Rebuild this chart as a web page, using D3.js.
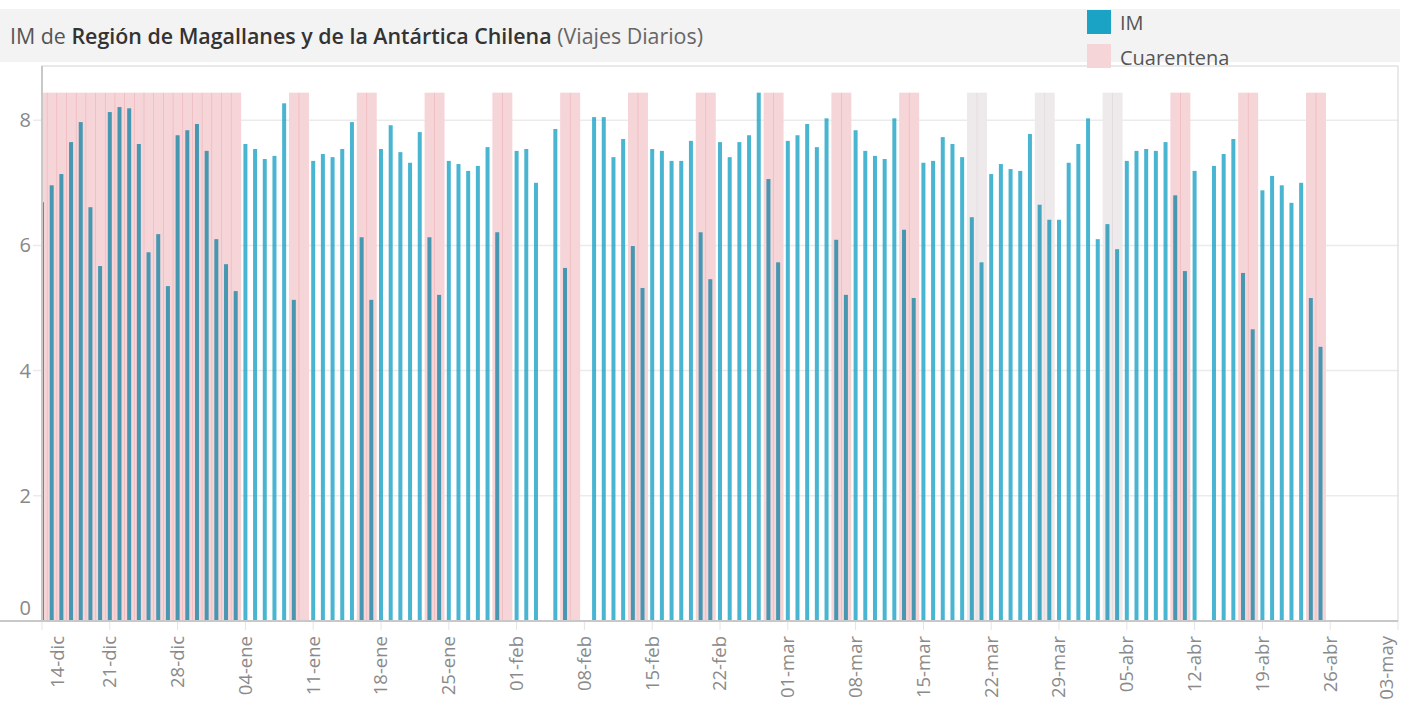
<!DOCTYPE html>
<html>
<head>
<script src="https://cdn.jsdelivr.net/npm/d3@7"></script>
  <meta charset="utf-8">
  <title>IM Magallanes</title>
  <style>
    body { margin: 0; background: #fff; }
    svg { display: block; font-family: "Open Sans", Lato, sans-serif; }
  </style>
</head>
<body>

<svg width="1413" height="702"></svg>

<script>

	// IM values per day, one array per month (null = no data that day)
	var valuesDic = [6.69, 6.96, 7.14, 7.65, 7.97, 6.61, 5.67, 8.13, 8.21, 8.19, 7.62, 5.89, 6.18, 5.35, 7.76, 7.84, 7.94, 7.51]; // 14-dic .. 31-dic
	var valuesEne = [6.10, 5.70, 5.27, 7.62, 7.54, 7.38, 7.43, 8.27, 5.13, null, 7.35, 7.46, 7.41, 7.54, 7.97, 6.13,
	                 5.13, 7.54, 7.92, 7.49, 7.32, 7.81, 6.13, 5.21, 7.35, 7.30, 7.19, 7.27, 7.57, 6.21, null];
	var valuesFeb = [7.51, 7.54, 7.00, null, 7.86, 5.64, null, null, 8.05, 8.05, 7.41, 7.70, 5.99, 5.32,
	                 7.54, 7.51, 7.35, 7.35, 7.67, 6.21, 5.46, 7.65, 7.41, 7.65, 7.76, 8.44, 7.06, 5.73];
	var valuesMar = [7.67, 7.76, 7.94, 7.57, 8.03, 6.09, 5.21, 7.84, 7.51, 7.43, 7.38, 8.03, 6.25, 5.16, 7.32, 7.35,
	                 7.73, 7.62, 7.41, 6.45, 5.73, 7.14, 7.30, 7.22, 7.19, 7.78, 6.65, 6.41, 6.41, 7.32, 7.62];
	var valuesAbr = [8.03, 6.10, 6.34, 5.94, 7.35, 7.51, 7.54, 7.51, 7.65, 6.80, 5.59, 7.19, null, 7.27, 7.46, 7.70,
	                 5.56, 4.66, 6.88, 7.11, 6.96, 6.68, 7.00, 5.16, 4.38];

	// quarantine periods (first day, last day)
	var cuarentena = [["2020-12-14", "2021-01-03"], ["2021-01-09", "2021-01-10"], ["2021-01-16", "2021-01-17"],
	                  ["2021-01-23", "2021-01-24"], ["2021-01-30", "2021-01-31"], ["2021-02-06", "2021-02-07"],
	                  ["2021-02-13", "2021-02-14"], ["2021-02-20", "2021-02-21"], ["2021-02-27", "2021-02-28"],
	                  ["2021-03-06", "2021-03-07"], ["2021-03-13", "2021-03-14"], ["2021-04-10", "2021-04-11"],
	                  ["2021-04-17", "2021-04-18"], ["2021-04-24", "2021-04-25"]];
	// grey (no legend) periods
	var otros = [["2021-03-20", "2021-03-21"], ["2021-03-27", "2021-03-28"], ["2021-04-03", "2021-04-04"]];

	var tickLabels = ["14-dic", "21-dic", "28-dic", "04-ene", "11-ene", "18-ene", "25-ene", "01-feb", "08-feb",
	                  "15-feb", "22-feb", "01-mar", "08-mar", "15-mar", "22-mar", "29-mar", "05-abr", "12-abr",
	                  "19-abr", "26-abr", "03-may"];
	var yTicks = [0, 2, 4, 6, 8];

	var parse = d3.timeParse("%Y-%m-%d");
	var firstDay = parse("2020-12-14");
	var lastDay = parse("2021-05-03");

	// join month arrays into one daily series
	var values = valuesDic.concat(valuesEne, valuesFeb, valuesMar, valuesAbr);
	var data = values.map(function(v, i) { return {date: d3.timeDay.offset(firstDay, i), value: v}; })
		.filter(function(d) { return d.value != null; });

	function days(periods) {
		var out = [];
		periods.forEach(function(p) {
			out = out.concat(d3.timeDay.range(parse(p[0]), d3.timeDay.offset(parse(p[1]), 1)));
		});
		return out;
	}

	var pLeft = 42, pRight = 1398, pTop = 66, pBottom = 621;

	var x = d3.scaleTime()
		.domain([firstDay, lastDay])
		.range([pLeft, pRight]);
	var y = d3.scaleLinear()
		.domain([0, 8.866])
		.range([pBottom, pTop]);
	var dayW = x(d3.timeDay.offset(firstDay, 1)) - x(firstDay);
	var maxV = d3.max(data, function(d) { return d.value; });

	var svg = d3.select('svg');

	// header
	svg.append('rect').attr('x', 0).attr('y', 9).attr('width', 1400).attr('height', 53).attr('fill', '#f3f3f3');
	var title = svg.append('text').attr('x', 10).attr('y', 37).attr('dy', '0.35em').attr('font-size', 21.4).attr('fill', '#555');
	title.append('tspan').text('IM de ');
	title.append('tspan').attr('fill', '#333').attr('font-weight', 600).text('Región de Magallanes y de la Antártica Chilena');
	title.append('tspan').attr('fill', '#666').text(' (Viajes Diarios)');

	svg.append('clipPath').attr('id', 'plot')
		.append('rect').attr('x', pLeft).attr('y', pTop).attr('width', pRight - pLeft).attr('height', pBottom - pTop);

	// gridlines
	svg.selectAll('.grid')
		.data(yTicks.filter(function(t) { return t > 0; }))
		.enter().append('line')
			.attr('x1', 33).attr('x2', pRight)
			.attr('y1', function(d) { return y(d); })
			.attr('y2', function(d) { return y(d); })
			.attr('stroke', '#ebebeb').attr('stroke-width', 1.5);

	var plot = svg.append('g').attr('clip-path', 'url(#plot)').style('isolation', 'isolate');

	// bars
	plot.selectAll('.bar')
			.data(data)
		.enter().append('rect')
			.attr('x', function(d) { return x(d.date) - 2; })
			.attr('width', 4)
			.attr('y', function(d) { return y(d.value); })
			.attr('height', function(d) { return y(0) - y(d.value); })
			.attr('fill', '#1ba3c6')
			.attr('fill-opacity', 0.8);

	// bands multiplied over the bars
	function bands(list, color) {
		plot.selectAll(null)
				.data(days(list))
			.enter().append('rect')
				.attr('x', function(d) { return x(d) - dayW / 2; })
				.attr('width', dayW + 0.6)
				.attr('y', y(maxV))
				.attr('height', y(0) - y(maxV))
				.attr('fill', color)
				.style('mix-blend-mode', 'multiply');
	}
	bands(cuarentena, '#f6d5d8');
	bands(otros, '#eeeaeb');

	// frame and axes
	svg.append('rect').attr('x', pLeft).attr('y', pTop).attr('width', pRight - pLeft).attr('height', pBottom - pTop)
		.attr('fill', 'none').attr('stroke', '#d4d4d4').attr('stroke-width', 1);
	svg.append('line').attr('x1', pLeft).attr('x2', pLeft).attr('y1', pTop).attr('y2', pBottom)
		.attr('stroke', '#c8c8c8').attr('stroke-width', 2);
	svg.append('line').attr('x1', 0).attr('x2', pRight).attr('y1', pBottom).attr('y2', pBottom)
		.attr('stroke', '#c8c8c8').attr('stroke-width', 2);

	// y labels
	svg.selectAll('.ylab')
			.data(yTicks)
		.enter().append('text')
			.attr('x', 31)
			.attr('y', function(d) { return d === 0 ? y(d) - 13 : y(d); })
			.attr('dy', '0.35em')
			.attr('text-anchor', 'end')
			.attr('font-size', 20)
			.attr('fill', '#888')
			.text(function(d) { return d; });

	// x ticks, one per week
	var weeks = d3.timeDay.range(firstDay, d3.timeDay.offset(lastDay, 1), 7);
	svg.selectAll('.xtick')
			.data(weeks)
		.enter().append('line')
			.attr('x1', function(d) { return x(d); })
			.attr('x2', function(d) { return x(d); })
			.attr('y1', pBottom + 1).attr('y2', pBottom + 9)
			.attr('stroke', '#e4e4e4').attr('stroke-width', 1);
	svg.selectAll('.xlab')
			.data(weeks)
		.enter().append('text')
			.attr('transform', function(d, i) {
				var px = x(d);
				if (i === 0) px += 16;
				if (i === weeks.length - 1) px -= 11;
				return 'translate(' + px + ',' + 636 + ') rotate(-90)';
			})
			.attr('dy', '0.35em')
			.attr('text-anchor', 'end')
			.attr('font-size', 18.5)
			.attr('fill', '#8a8a8a')
			.text(function(d, i) { return tickLabels[i]; });

	// legend
	svg.append('rect').attr('x', 1087).attr('y', 10).attr('width', 24).attr('height', 24).attr('fill', '#1ba3c6');
	svg.append('rect').attr('x', 1087).attr('y', 44).attr('width', 24).attr('height', 24).attr('fill', '#f6d5d8');
	svg.append('text').attr('x', 1120).attr('y', 23).attr('dy', '0.35em').attr('font-size', 20).attr('fill', '#555').text('IM');
	svg.append('text').attr('x', 1120).attr('y', 58).attr('dy', '0.35em').attr('font-size', 20).attr('fill', '#555').text('Cuarentena');

</script>
</body>

</html>
